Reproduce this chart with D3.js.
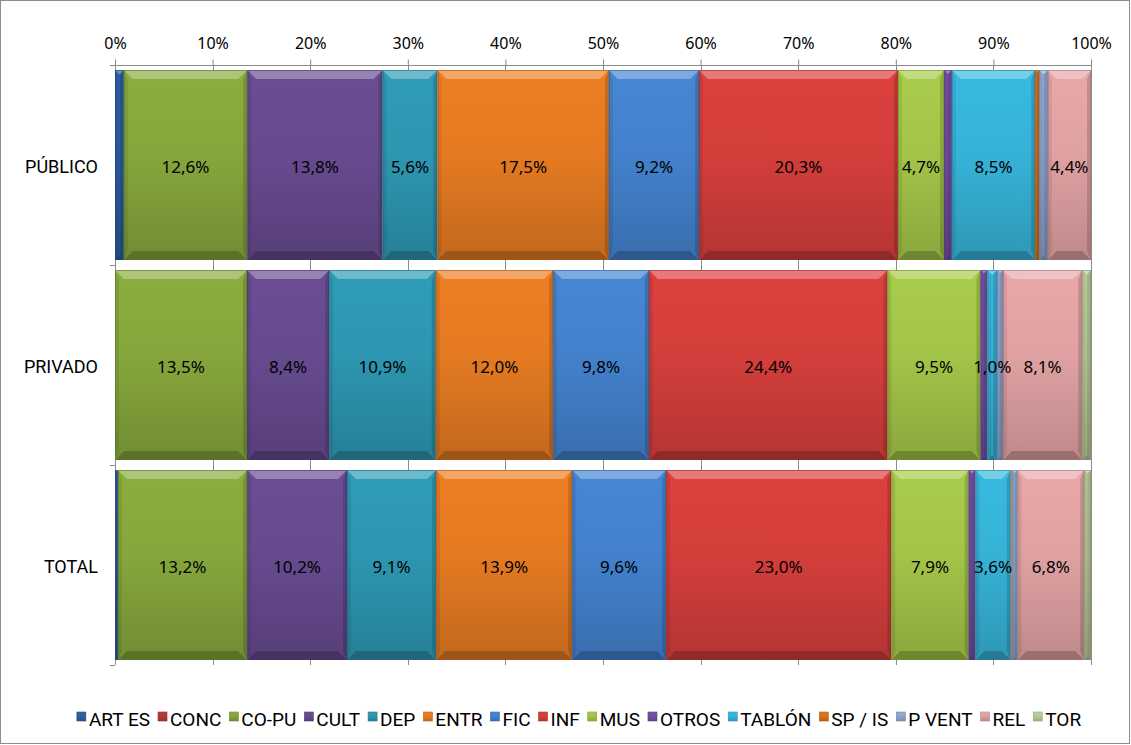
<!DOCTYPE html>
<html>
<head>
<meta charset="utf-8">
<script src="https://cdn.jsdelivr.net/npm/d3@7"></script>
<style>
  body { margin: 0; background: #fff; }
  svg { display: block; }
</style>
</head>
<body>
<svg id="chart"></svg>
<script>
// *** Data ***
var categories = ["PÚBLICO", "PRIVADO", "TOTAL"];
var seriesNames = ["ART ES", "CONC", "CO-PU", "CULT", "DEP", "ENTR", "FIC", "INF", "MUS", "OTROS", "TABLÓN", "SP / IS", "P VENT", "REL", "TOR"];
var publico = [0.9, 0, 12.6, 13.8, 5.6, 17.5, 9.2, 20.3, 4.7, 0.8, 8.5, 0.4, 0.9, 4.4, 0];
var privado = [0, 0, 13.5, 8.4, 10.9, 12.0, 9.8, 24.4, 9.5, 0.7, 1.0, 0, 0.6, 8.1, 0.9];
var total = [0.3, 0, 13.2, 10.2, 9.1, 13.9, 9.6, 23.0, 7.9, 0.7, 3.6, 0.1, 0.6, 6.8, 0.7];
var tickValues = [0, 0.1, 0.2, 0.3, 0.4, 0.5, 0.6, 0.7, 0.8, 0.9, 1];

var seriesColors = ["#2C5F9F", "#B33B38", "#85A63C", "#664A8E", "#2D96B0", "#E47A22", "#4381CC", "#D33E3B",
                    "#A2C448", "#7250A2", "#36B2D7", "#DC7019", "#90A5CF", "#DFA1A2", "#B7CB95"];

// rows for d3.stack
var rowValues = [publico, privado, total];
var table = categories.map(function (c, i) {
    var row = { cat: c };
    seriesNames.forEach(function (s, j) { row[s] = rowValues[i][j]; });
    return row;
});

var svgWidth = 1131, svgHeight = 745;
var plotLeft = 115, plotRight = 1091, plotTop = 65, plotBottom = 665;

var svg = d3.select("#chart").attr("width", svgWidth).attr("height", svgHeight);

// outer frame
svg.append("rect")
    .attr("x", 0.5).attr("y", 0.5)
    .attr("width", svgWidth - 2).attr("height", svgHeight - 2)
    .attr("fill", "#fff").attr("stroke", "#8c8c8c");

var x = d3.scaleLinear().domain([0, 1]).range([plotLeft, plotRight]);
var y = d3.scaleBand().domain(categories).range([plotTop, plotBottom]).paddingInner(0.05).paddingOuter(0.025);

var stack = d3.stack().keys(seriesNames).offset(d3.stackOffsetExpand);
var layers = stack(table);

// gradients
var defs = svg.append("defs");
seriesColors.forEach(function (c, i) {
    var g = defs.append("linearGradient").attr("id", "grad" + i)
        .attr("x1", 0).attr("y1", 0).attr("x2", 0).attr("y2", 1);
    g.append("stop").attr("offset", "0%").attr("stop-color", d3.color(c).brighter(0.12));
    g.append("stop").attr("offset", "45%").attr("stop-color", c);
    g.append("stop").attr("offset", "100%").attr("stop-color", d3.color(c).darker(0.45));
});

// *** Grid lines ***
svg.append("g").selectAll("line")
    .data(tickValues.slice(1))
    .enter().append("line")
    .attr("x1", function (d) { return Math.round(x(d)) + 0.5; })
    .attr("x2", function (d) { return Math.round(x(d)) + 0.5; })
    .attr("y1", plotTop).attr("y2", plotBottom)
    .attr("stroke", "#8a8a8a").attr("stroke-width", 1);

// *** Top axis ***
var xAxis = d3.axisTop(x).tickValues(tickValues).tickFormat(d3.format(".0%")).tickSize(6).tickSizeOuter(0);
var gx = svg.append("g").attr("transform", "translate(0," + (plotTop + 0.5) + ")").call(xAxis);
gx.select(".domain").attr("stroke", "#8a8a8a").attr("d", "M" + (plotLeft - 5) + ",0H" + plotRight);
gx.selectAll(".tick line").attr("stroke", "#8a8a8a");
gx.selectAll(".tick text")
    .attr("font-family", "'Noto Sans', sans-serif").attr("font-size", 16).attr("fill", "#000")
    .attr("y", -17);

// *** Left axis ***
svg.append("line").attr("x1", plotLeft + 0.5).attr("x2", plotLeft + 0.5).attr("y1", plotTop).attr("y2", plotBottom)
    .attr("stroke", "#8a8a8a");
var bounds = [plotTop, plotTop + 200, plotTop + 400, plotBottom];
svg.append("g").selectAll("line").data(bounds).enter().append("line")
    .attr("x1", plotLeft - 5).attr("x2", plotLeft)
    .attr("y1", function (d) { return d + 0.5; }).attr("y2", function (d) { return d + 0.5; })
    .attr("stroke", "#8a8a8a");

svg.append("g").selectAll("text").data(categories).enter().append("text")
    .attr("x", 98)
    .attr("y", function (d) { return y(d) + y.bandwidth() / 2; })
    .attr("dy", "0.45em")
    .attr("text-anchor", "end")
    .attr("font-family", "'Liberation Sans Narrow', 'Roboto', sans-serif")
    .attr("font-size", 18)
    .attr("fill", "#000")
    .text(function (d) { return d; });

// *** The bars ***
var fmt = function (v) { return d3.format(".1f")(v).replace(".", ",") + "%"; };

var segments = [];
layers.forEach(function (L) {
    L.forEach(function (d, i) {
        var v = d.data[L.key];
        if (v > 0) segments.push({ key: L.key, idx: L.index, d: d, cat: categories[i], v: v });
    });
});

var seg = svg.append("g").selectAll("g")
    .data(segments)
    .enter().append("g");

seg.each(function (s) {
    var g = d3.select(this);
    var x0 = x(s.d[0]), x1 = x(s.d[1]);
    var y0 = y(s.cat), y1 = y0 + y.bandwidth();
    var w = x1 - x0;
    var c = seriesColors[s.idx];
    g.append("rect")
        .attr("x", x0).attr("y", y0).attr("width", w).attr("height", y1 - y0)
        .attr("fill", "url(#grad" + s.idx + ")");
    var b = Math.min(9, w / 2), bs = Math.min(4, w / 2);
    // top bevel
    g.append("path")
        .attr("d", "M" + x0 + "," + y0 + "L" + x1 + "," + y0 + "L" + (x1 - b) + "," + (y0 + b) + "L" + (x0 + b) + "," + (y0 + b) + "Z")
        .attr("fill", "#fff").attr("opacity", 0.3);
    // bottom bevel
    g.append("path")
        .attr("d", "M" + x0 + "," + y1 + "L" + x1 + "," + y1 + "L" + (x1 - b) + "," + (y1 - b) + "L" + (x0 + b) + "," + (y1 - b) + "Z")
        .attr("fill", "#000").attr("opacity", 0.2);
    // sides
    g.append("path")
        .attr("d", "M" + x0 + "," + y0 + "L" + (x0 + bs) + "," + (y0 + b) + "L" + (x0 + bs) + "," + (y1 - b) + "L" + x0 + "," + y1 + "Z")
        .attr("fill", "#000").attr("opacity", 0.08);
    g.append("path")
        .attr("d", "M" + x1 + "," + y0 + "L" + (x1 - bs) + "," + (y0 + b) + "L" + (x1 - bs) + "," + (y1 - b) + "L" + x1 + "," + y1 + "Z")
        .attr("fill", "#000").attr("opacity", 0.15);
    g.append("rect")
        .attr("x", x0 + 0.5).attr("y", y0 + 0.5).attr("width", Math.max(0, w - 1)).attr("height", y1 - y0 - 1)
        .attr("fill", "none").attr("stroke", d3.color(c).darker(0.9)).attr("stroke-opacity", 0.6);
});

// data labels, drawn over all bars
svg.append("g").selectAll("text")
    .data(segments.filter(function (s) { return s.v >= 1; }))
    .enter().append("text")
    .attr("x", function (s) { return (x(s.d[0]) + x(s.d[1])) / 2; })
    .attr("y", function (s) { return y(s.cat) + y.bandwidth() / 2; })
    .attr("dy", "0.45em")
    .attr("text-anchor", "middle")
    .attr("font-family", "'Noto Sans', sans-serif")
    .attr("font-size", 17)
    .attr("fill", "#000")
    .text(function (s) { return fmt(s.v); });

// *** Legend ***
var legend = svg.append("g");
var lx = 0;
seriesNames.forEach(function (s, i) {
    var item = legend.append("g").attr("transform", "translate(" + lx + ",0)");
    item.append("rect").attr("x", 0).attr("y", -14).attr("width", 9).attr("height", 9)
        .attr("fill", "url(#grad" + i + ")").attr("stroke", d3.color(seriesColors[i]).darker(0.6)).attr("stroke-width", 0.6);
    var t = item.append("text").attr("x", 12).attr("y", 0)
        .attr("font-family", "'Liberation Sans Narrow', 'Roboto', sans-serif")
        .attr("font-size", 19).attr("fill", "#000")
        .text(s);
    lx += 12 + t.node().getComputedTextLength() + 8;
});
legend.attr("transform", "translate(" + (579 - (lx - 8) / 2) + ",726)");
</script>
</body>
</html>
